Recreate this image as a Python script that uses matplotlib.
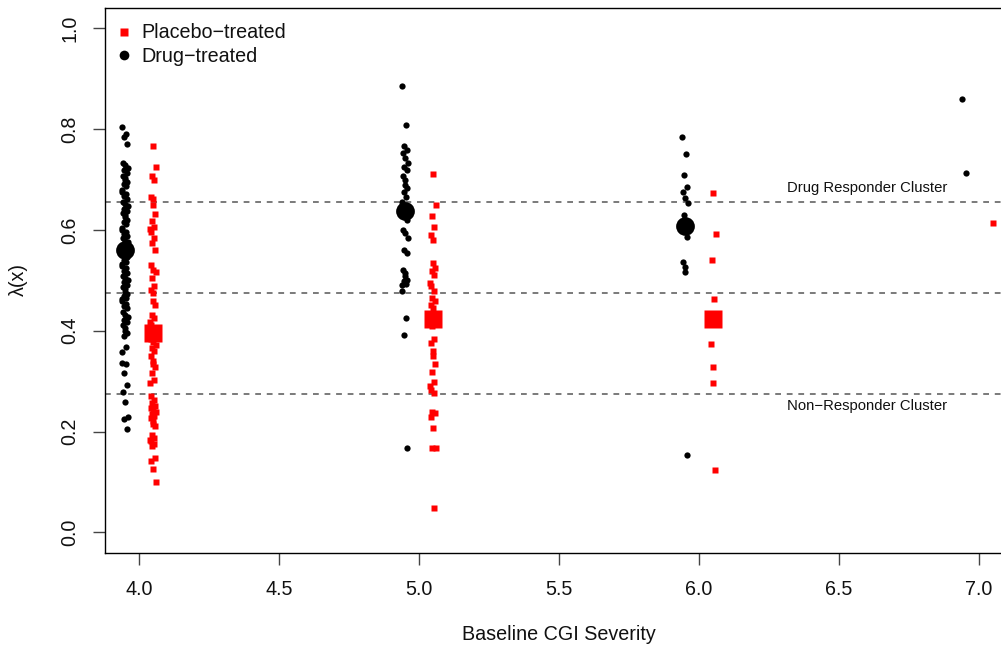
import matplotlib
matplotlib.use("Agg")
import matplotlib.pyplot as plt
from matplotlib.lines import Line2D

plt.rcParams['font.family'] = ['Liberation Sans', 'DejaVu Sans']

# ---------------- data ----------------
severity_levels = [4, 5, 6, 7]

drug_4 = [0.803, 0.790, 0.785, 0.770,
          0.733, 0.728, 0.722, 0.718, 0.712, 0.707, 0.703, 0.699, 0.694, 0.690,
          0.686, 0.680, 0.676, 0.671, 0.668, 0.661, 0.656, 0.651, 0.647, 0.641,
          0.638, 0.634, 0.629, 0.626, 0.620, 0.615, 0.611, 0.604, 0.600, 0.596,
          0.592, 0.588, 0.583, 0.578, 0.575, 0.570, 0.566, 0.561, 0.555, 0.551,
          0.547, 0.541, 0.537, 0.533, 0.528, 0.524, 0.518, 0.514, 0.509, 0.505,
          0.500, 0.496, 0.490, 0.486, 0.482, 0.477, 0.472, 0.469, 0.465, 0.462,
          0.458, 0.452, 0.448, 0.444, 0.438, 0.432, 0.428, 0.422, 0.417, 0.411,
          0.405, 0.400, 0.395, 0.390,
          0.368, 0.357, 0.336, 0.333, 0.317, 0.292, 0.279, 0.259, 0.228, 0.224,
          0.204]
placebo_4 = [0.766, 0.724, 0.707, 0.699, 0.665, 0.662, 0.650, 0.631, 0.617,
             0.605, 0.601, 0.596, 0.584, 0.574, 0.560, 0.531, 0.521, 0.516,
             0.505, 0.488, 0.481, 0.475, 0.458, 0.451, 0.432, 0.426, 0.418,
             0.412, 0.405, 0.398, 0.390, 0.383, 0.378,
             0.372, 0.366, 0.359, 0.349, 0.339, 0.333, 0.327, 0.317, 0.303,
             0.296, 0.270, 0.263, 0.257, 0.250, 0.246, 0.244, 0.238, 0.234,
             0.230, 0.226, 0.220, 0.215, 0.210, 0.194, 0.188, 0.184, 0.181,
             0.176, 0.171, 0.148, 0.141, 0.126, 0.100]
drug_5 = [0.885, 0.807, 0.766, 0.758, 0.752, 0.742, 0.732, 0.725, 0.719,
          0.706, 0.699, 0.689, 0.683, 0.676, 0.666, 0.656, 0.650, 0.645,
          0.628, 0.620, 0.600, 0.593, 0.584, 0.560, 0.554, 0.521, 0.514,
          0.508, 0.501, 0.498, 0.493, 0.491, 0.478, 0.426, 0.392, 0.167]
placebo_5 = [0.710, 0.650, 0.628, 0.605, 0.589, 0.580, 0.534, 0.524, 0.518,
             0.511, 0.494, 0.488, 0.478, 0.465, 0.458, 0.451, 0.445, 0.432,
             0.409, 0.383, 0.376, 0.359, 0.350, 0.334, 0.318, 0.298, 0.291,
             0.283, 0.277, 0.239, 0.236, 0.229, 0.207, 0.168, 0.168, 0.049]
drug_6 = [0.784, 0.751, 0.708, 0.684, 0.676, 0.663, 0.654, 0.630, 0.586,
          0.536, 0.527, 0.517, 0.153]
placebo_6 = [0.673, 0.591, 0.540, 0.463, 0.374, 0.328, 0.296, 0.124]
drug_7 = [0.860, 0.713]
placebo_7 = [0.614]

drug_groups = [drug_4, drug_5, drug_6, drug_7]
placebo_groups = [placebo_4, placebo_5, placebo_6, placebo_7]

mean_levels = [4, 5, 6]
drug_means = [0.560, 0.638, 0.607]
placebo_means = [0.396, 0.424, 0.423]

# small horizontal jitter pattern (hand typed)
jitter = [-0.012, 0.004, -0.003, 0.010, -0.008, 0.001, 0.013, -0.005,
          0.007, -0.010, 0.002, -0.001, 0.009, -0.006, 0.005, -0.013]

cluster_lines = [0.655, 0.475, 0.275]
cluster_labels = ["Drug Responder Cluster", "Non\u2212Responder Cluster"]
cluster_label_y = [0.682, 0.250]

xticks = [4.0, 4.5, 5.0, 5.5, 6.0, 6.5, 7.0]
yticks = [0.0, 0.2, 0.4, 0.6, 0.8, 1.0]

FS = 14.2

# ---------------- figure ----------------
W, H = 1001, 648
fig = plt.figure(figsize=(W / 100, H / 100), dpi=100)
left_px, right_px, top_px, bot_px = 105.3, 1001, 8, 552.5
ax = fig.add_axes([left_px / W, (H - bot_px) / H,
                   (right_px - left_px) / W, (bot_px - top_px) / H])

ppu = 280.0
ax.set_xlim(4.0 - (139 - left_px) / ppu, 4.0 + (right_px - 139) / ppu)
ax.set_ylim(-0.04, 1.04)

for y in cluster_lines:
    ax.axhline(y, color='#707070', lw=1.3, ls=(0, (3.2, 3.2)), zorder=1)

for lvl, vals in zip(severity_levels, drug_groups):
    xs = [lvl - 0.05 + jitter[i % len(jitter)] * 0.8 for i in range(len(vals))]
    ax.plot(xs, vals, 'o', color='black', ms=4.5, mec='none', zorder=3)
for lvl, vals in zip(severity_levels, placebo_groups):
    xs = [lvl + 0.05 + jitter[(i + 5) % len(jitter)] * 0.7 for i in range(len(vals))]
    ax.plot(xs, vals, 's', color='#FF0000', ms=3.7, mec='none', zorder=3)

ax.plot([l - 0.05 for l in mean_levels], drug_means, 'o', color='black',
        ms=13.5, mec='none', zorder=4)
ax.plot([l + 0.05 for l in mean_levels], placebo_means, 's', color='#FF0000',
        ms=13, mec='none', zorder=4)

for txt, yv in zip(cluster_labels, cluster_label_y):
    ax.text(4.0 + (787 - 139) / ppu, yv, txt, fontsize=10.7, va='center',
            ha='left', color='#111111')

ax.set_xticks(xticks)
ax.set_xticklabels([f"{v:.1f}" for v in xticks])
ax.set_yticks(yticks)
ax.set_yticklabels([f"{v:.1f}" for v in yticks], rotation=90, va='center')
ax.tick_params(axis='both', direction='out', length=8.6, width=1.0,
               color='#444444', labelsize=FS, labelcolor='#111111')
ax.tick_params(axis='x', pad=11.5)
ax.tick_params(axis='y', pad=10)
for s in ['left', 'bottom', 'top']:
    ax.spines[s].set_linewidth(1.0)
    ax.spines[s].set_color('black')
ax.spines['right'].set_visible(False)

fig.text(559 / W, 1 - 635 / H, "Baseline CGI Severity", ha='center',
         va='center', fontsize=FS, color='#111111')
fig.text(18 / W, 1 - 280 / H, "\u03bb(x)", ha='center', va='center',
         rotation=90, fontsize=FS, color='#111111')

# legend
fig.add_artist(Line2D([124 / W], [1 - 32 / H], marker='s', color='#FF0000',
                      ms=6.2, mec='none', ls='none'))
fig.add_artist(Line2D([124 / W], [1 - 55 / H], marker='o', color='black',
                      ms=7.0, mec='none', ls='none'))
fig.text(141 / W, 1 - 33 / H, "Placebo\u2212treated", fontsize=FS,
         va='center', ha='left', color='#111111')
fig.text(141 / W, 1 - 56 / H, "Drug\u2212treated", fontsize=FS,
         va='center', ha='left', color='#111111')

fig.savefig("out.png", dpi=100)
